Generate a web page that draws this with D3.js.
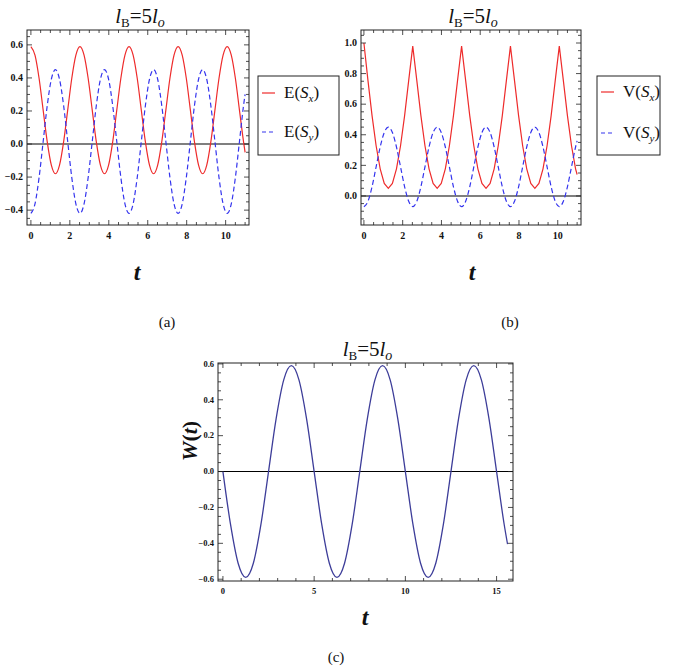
<!DOCTYPE html>
<html>
<head>
<meta charset="utf-8">
<script src="https://cdn.jsdelivr.net/npm/d3@7/dist/d3.min.js"></script>
<style>
    body { margin: 0; background: #fff; }
    svg text { font-family: "Liberation Serif", "Times New Roman", serif; fill: #111; }
</style>
</head>
<body>
<svg id="fig" width="685" height="672"></svg>
<script>

// time grid for panels (a) and (b)
var tAB = [0, 0.21, 0.42, 0.63, 0.84, 1.05, 1.26, 1.47, 1.68, 1.89, 2.1, 2.31,
    2.52, 2.73, 2.94, 3.15, 3.36, 3.57, 3.78, 3.99, 4.2, 4.41, 4.62, 4.83,
    5.04, 5.25, 5.46, 5.67, 5.88, 6.09, 6.3, 6.51, 6.72, 6.93, 7.14, 7.35,
    7.56, 7.77, 7.98, 8.19, 8.4, 8.61, 8.82, 9.03, 9.24, 9.45, 9.66, 9.87,
    10.08, 10.29, 10.5, 10.71, 10.92, 11.0];

var eSx = [0.59, 0.538, 0.398, 0.205, 0.013, -0.128, -0.18, -0.128, 0.013, 0.205, 0.398, 0.538,
    0.59, 0.538, 0.398, 0.205, 0.013, -0.128, -0.18, -0.128, 0.013, 0.205, 0.398, 0.538,
    0.59, 0.538, 0.398, 0.205, 0.013, -0.128, -0.18, -0.128, 0.013, 0.205, 0.398, 0.538,
    0.59, 0.538, 0.398, 0.205, 0.013, -0.128, -0.18, -0.128, 0.013, 0.205, 0.398, 0.538,
    0.59, 0.538, 0.398, 0.205, 0.013, -0.05];

var eSy = [-0.42, -0.362, -0.203, 0.015, 0.233, 0.392, 0.45, 0.392, 0.233, 0.015, -0.203, -0.362,
    -0.42, -0.362, -0.203, 0.015, 0.233, 0.392, 0.45, 0.392, 0.233, 0.015, -0.203, -0.362,
    -0.42, -0.362, -0.203, 0.015, 0.233, 0.392, 0.45, 0.392, 0.233, 0.015, -0.203, -0.362,
    -0.42, -0.362, -0.203, 0.015, 0.233, 0.392, 0.45, 0.392, 0.233, 0.015, -0.203, -0.362,
    -0.42, -0.362, -0.203, 0.015, 0.233, 0.30];

var vSx = [1.0, 0.754, 0.525, 0.328, 0.177, 0.082, 0.05, 0.082, 0.177, 0.328, 0.525, 0.754,
    0.98, 0.754, 0.525, 0.328, 0.177, 0.082, 0.05, 0.082, 0.177, 0.328, 0.525, 0.754,
    0.98, 0.754, 0.525, 0.328, 0.177, 0.082, 0.05, 0.082, 0.177, 0.328, 0.525, 0.754,
    0.98, 0.754, 0.525, 0.328, 0.177, 0.082, 0.05, 0.082, 0.177, 0.328, 0.525, 0.754,
    0.98, 0.754, 0.525, 0.328, 0.177, 0.14];

var vSy = [-0.07, -0.035, 0.06, 0.19, 0.32, 0.415, 0.45, 0.415, 0.32, 0.19, 0.06, -0.035,
    -0.07, -0.035, 0.06, 0.19, 0.32, 0.415, 0.45, 0.415, 0.32, 0.19, 0.06, -0.035,
    -0.07, -0.035, 0.06, 0.19, 0.32, 0.415, 0.45, 0.415, 0.32, 0.19, 0.06, -0.035,
    -0.07, -0.035, 0.06, 0.19, 0.32, 0.415, 0.45, 0.415, 0.32, 0.19, 0.06, -0.035,
    -0.07, -0.035, 0.06, 0.19, 0.32, 0.36];

// time grid for panel (c)
var tC = [0, 0.417, 0.833, 1.25, 1.667, 2.083, 2.5, 2.917, 3.333, 3.75, 4.167, 4.583,
    5, 5.417, 5.833, 6.25, 6.667, 7.083, 7.5, 7.917, 8.333, 8.75, 9.167, 9.583,
    10, 10.417, 10.833, 11.25, 11.667, 12.083, 12.5, 12.917, 13.333, 13.75, 14.167, 14.583,
    15, 15.417, 15.6];

var wT = [0, -0.295, -0.511, -0.59, -0.511, -0.295, 0, 0.295, 0.511, 0.59, 0.511, 0.295,
    0, -0.295, -0.511, -0.59, -0.511, -0.295, 0, 0.295, 0.511, 0.59, 0.511, 0.295,
    0, -0.295, -0.511, -0.59, -0.511, -0.295, 0, 0.295, 0.511, 0.59, 0.511, 0.295,
    0, -0.295, -0.404];

// ticks
var abXTicks = [0, 2, 4, 6, 8, 10];
var aYTicks = [-0.4, -0.2, 0.0, 0.2, 0.4, 0.6];
var bYTicks = [0.0, 0.2, 0.4, 0.6, 0.8, 1.0];
var cXTicks = [0, 5, 10, 15];
var cYTicks = [-0.6, -0.4, -0.2, 0.0, 0.2, 0.4, 0.6];

var RED = "#ee2b2b";
var BLUE = "#3434ee";
var NAVY = "#3d3d99";

var svg = d3.select("#fig");

function pairs(xs, ys) {
    return xs.map(function (x, i) { return [x, ys[i]]; });
}

function drawPanel(cfg) {
    var g = svg.append("g");
    var x = d3.scaleLinear().domain(cfg.xDomain).range([cfg.left, cfg.right]);
    var y = d3.scaleLinear().domain(cfg.yDomain).range([cfg.bottom, cfg.top]);
    var fs = cfg.tickFont;

    var clipId = "clip_" + cfg.id;
    g.append("clipPath").attr("id", clipId)
        .append("rect")
        .attr("x", cfg.left).attr("y", cfg.top)
        .attr("width", cfg.right - cfg.left).attr("height", cfg.bottom - cfg.top);

    // zero axis
    g.append("line")
        .attr("x1", cfg.left).attr("x2", cfg.right)
        .attr("y1", y(0)).attr("y2", y(0))
        .attr("stroke", "#000").attr("stroke-width", 1.1);

    // curves
    cfg.series.forEach(function (s) {
        var line = d3.line()
            .x(function (d) { return x(d[0]); })
            .y(function (d) { return y(d[1]); })
            .curve(s.curve || d3.curveMonotoneX);
        g.append("path")
            .datum(pairs(s.t, s.v))
            .attr("clip-path", "url(#" + clipId + ")")
            .attr("fill", "none")
            .attr("stroke", s.color)
            .attr("stroke-width", s.width || 1.2)
            .attr("stroke-dasharray", s.dash || null)
            .attr("d", line);
    });

    // frame ticks: minor first, majors longer
    var xMinor = [], yMinor = [];
    var k;
    for (k = Math.ceil(cfg.xDomain[0] / cfg.xMinorStep); k * cfg.xMinorStep <= cfg.xDomain[1]; k++) xMinor.push(k * cfg.xMinorStep);
    for (k = Math.ceil(cfg.yDomain[0] / cfg.yMinorStep - 1e-6); k * cfg.yMinorStep <= cfg.yDomain[1]; k++) yMinor.push(k * cfg.yMinorStep);

    var tk = g.append("g").attr("stroke", "#222").attr("stroke-width", 0.8);
    xMinor.forEach(function (v) {
        var isMajor = cfg.xTicks.some(function (m) { return Math.abs(m - v) < 1e-6; });
        var len = isMajor ? 5 : 3;
        tk.append("line").attr("x1", x(v)).attr("x2", x(v)).attr("y1", cfg.bottom).attr("y2", cfg.bottom - len);
        tk.append("line").attr("x1", x(v)).attr("x2", x(v)).attr("y1", cfg.top).attr("y2", cfg.top + len);
    });
    yMinor.forEach(function (v) {
        var isMajor = cfg.yTicks.some(function (m) { return Math.abs(m - v) < 1e-6; });
        var len = isMajor ? 5 : 3;
        tk.append("line").attr("y1", y(v)).attr("y2", y(v)).attr("x1", cfg.left).attr("x2", cfg.left + len);
        tk.append("line").attr("y1", y(v)).attr("y2", y(v)).attr("x1", cfg.right).attr("x2", cfg.right - len);
    });

    // frame
    g.append("rect")
        .attr("x", cfg.left).attr("y", cfg.top)
        .attr("width", cfg.right - cfg.left).attr("height", cfg.bottom - cfg.top)
        .attr("fill", "none").attr("stroke", "#222").attr("stroke-width", 1);

    // tick labels
    g.selectAll(".xl").data(cfg.xTicks).enter().append("text")
        .attr("x", function (d) { return x(d); })
        .attr("y", cfg.bottom + fs + 4)
        .attr("text-anchor", "middle")
        .attr("font-size", fs).attr("font-weight", "bold")
        .text(function (d) { return d; });
    g.selectAll(".yl").data(cfg.yTicks).enter().append("text")
        .attr("x", cfg.left - 4)
        .attr("y", function (d) { return y(d) + fs * 0.33; })
        .attr("text-anchor", "end")
        .attr("font-size", fs).attr("font-weight", "bold")
        .text(function (d) { return (d < 0 ? "\u2212" : "") + Math.abs(d).toFixed(1); });

    // title l_B=5l_o
    var title = g.append("text")
        .attr("x", (cfg.left + cfg.right) / 2 + 2).attr("y", cfg.top - 7)
        .attr("text-anchor", "middle").attr("font-size", 21);
    title.append("tspan").attr("font-style", "italic").text("l");
    title.append("tspan").attr("font-size", 13).attr("dy", 4).text("B");
    title.append("tspan").attr("dy", -4).text("=5");
    title.append("tspan").attr("font-style", "italic").text("l");
    title.append("tspan").attr("font-style", "italic").attr("font-size", 14).attr("dy", 4).text("o");

    // axis label t
    g.append("text")
        .attr("x", cfg.tLabel[0]).attr("y", cfg.tLabel[1])
        .attr("text-anchor", "middle")
        .attr("font-size", 24).attr("font-style", "italic").attr("font-weight", "bold")
        .text("t");

    // panel tag
    g.append("text")
        .attr("x", cfg.tag[0]).attr("y", cfg.tag[1])
        .attr("text-anchor", "middle").attr("font-size", 15)
        .text(cfg.tag[2]);

    return {x: x, y: y, g: g};
}

function drawLegend(box, name, rows) {
    var g = svg.append("g");
    g.append("rect")
        .attr("x", box[0]).attr("y", box[1]).attr("width", box[2]).attr("height", box[3])
        .attr("fill", "#fff").attr("stroke", "#222").attr("stroke-width", 1);
    rows.forEach(function (r) {
        g.append("line")
            .attr("x1", box[0] + 4).attr("x2", box[0] + 17)
            .attr("y1", r.y).attr("y2", r.y)
            .attr("stroke", r.color).attr("stroke-width", 1.2)
            .attr("stroke-dasharray", r.dash || null);
        var tx = g.append("text")
            .attr("x", box[0] + 26).attr("y", r.y + 5)
            .attr("font-size", 17);
        tx.append("tspan").text(name + "(");
        tx.append("tspan").attr("font-style", "italic").text("S");
        tx.append("tspan").attr("font-style", "italic").attr("font-size", 11).attr("dy", 4).text(r.sub);
        tx.append("tspan").attr("dy", -4).text(")");
    });
}

drawPanel({
    id: "a", left: 27, right: 249, top: 30, bottom: 225,
    xDomain: [-0.2, 11.2], yDomain: [-0.49, 0.69],
    xTicks: abXTicks, yTicks: aYTicks, xMinorStep: 0.5, yMinorStep: 0.05,
    tickFont: 10,
    series: [
        {t: tAB, v: eSx, color: RED},
        {t: tAB, v: eSy, color: BLUE, dash: "5,3"}
    ],
    tLabel: [137, 280], tag: [167, 327, "(a)"]
});
drawLegend([258, 76, 81, 79], "E", [
    {y: 93, color: RED, sub: "x"},
    {y: 132, color: BLUE, dash: "4,3", sub: "y"}
]);

drawPanel({
    id: "b", left: 361, right: 581, top: 30, bottom: 225,
    xDomain: [-0.15, 11.2], yDomain: [-0.19, 1.085],
    xTicks: abXTicks, yTicks: bYTicks, xMinorStep: 0.5, yMinorStep: 0.05,
    tickFont: 10,
    series: [
        {t: tAB, v: vSx, color: RED, curve: d3.curveLinear},
        {t: tAB, v: vSy, color: BLUE, dash: "5,3"}
    ],
    tLabel: [472, 280], tag: [510, 327, "(b)"]
});
drawLegend([597, 76, 63, 79], "V", [
    {y: 92, color: RED, sub: "x"},
    {y: 133, color: BLUE, dash: "4,3", sub: "y"}
]);

drawPanel({
    id: "c", left: 218, right: 513, top: 363, bottom: 581,
    xDomain: [-0.27, 15.9], yDomain: [-0.61, 0.605],
    xTicks: cXTicks, yTicks: cYTicks, xMinorStep: 1, yMinorStep: 0.05,
    tickFont: 8.5,
    series: [
        {t: tC, v: wT, color: NAVY, width: 1.3}
    ],
    tLabel: [365, 625], tag: [336, 662, "(c)"]
});

// W(t) label
var wl = svg.append("text")
    .attr("transform", "translate(197,441) rotate(-90)")
    .attr("text-anchor", "middle")
    .attr("font-size", 22).attr("font-style", "italic").attr("font-weight", "bold");
wl.append("tspan").text("W");
wl.append("tspan").attr("font-style", "normal").text("(");
wl.append("tspan").text("t");
wl.append("tspan").attr("font-style", "normal").text(")");

</script>
</body>
</html>
